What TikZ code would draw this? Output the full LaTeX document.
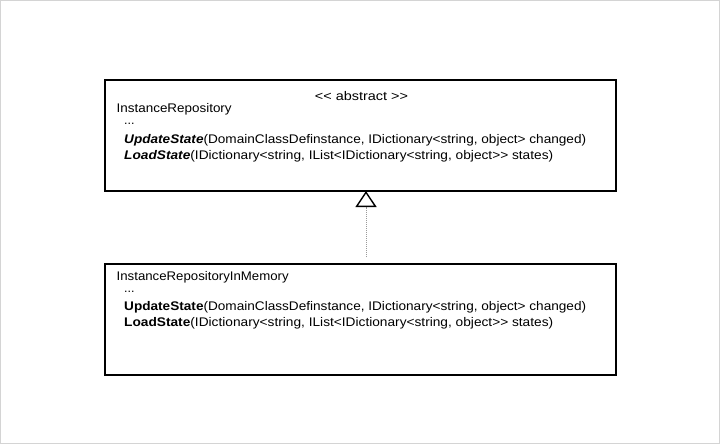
\documentclass[tikz,border=0pt]{standalone}
\usepackage{fontspec}
\setmainfont{Liberation Sans}[Ligatures=TeXOff]
\usetikzlibrary{arrows.meta}
\definecolor{framegray}{HTML}{D4D4D4}
\definecolor{dotgray}{HTML}{9A9A9A}
\newcommand{\fitw}[2]{\resizebox{#1}{\height}{#2}}
\begin{document}
\begin{tikzpicture}[x=1pt,y=-1pt,
  classbox/.style={draw=black, line width=1.6pt, fill=white, anchor=north west, inner sep=0pt, outer sep=0pt},
  txt/.style={font=\fontsize{12.5pt}{14pt}\selectfont, inner sep=0pt, anchor=base west},
  realize/.style={draw=dotgray, line width=0.9pt, dash pattern=on 1pt off 1pt,
    -{Triangle[open, length=16pt, width=21pt, color=black, line width=1.4pt]}}]
\draw[framegray, line width=1pt, fill=white] (0.5,0.5) rectangle (719.5,443.5);
\useasboundingbox (0,0) rectangle (720,444);
% superclass
\node[classbox, minimum width=511pt, minimum height=111pt] (sup) at (105,80) {};
\node[txt, anchor=base] (supster) at (361.5,100) {\fitw{93pt}{<< abstract >>}};
\node[txt] (supname) at (116.5,112.5) {\fitw{115pt}{InstanceRepository}};
\node[txt] (supdots) at (124,124) {...};
\node[txt] (supm1) at (124,143) {\fitw{462pt}{\textbf{\textit{UpdateState}}(DomainClassDefinstance, IDictionary<string, object> changed)}};
\node[txt] (supm2) at (124,159) {\fitw{429pt}{\textbf{\textit{LoadState}}(IDictionary<string, IList<IDictionary<string, object>> states)}};
% subclass
\node[classbox, minimum width=511pt, minimum height=111pt] (sub) at (105,264) {};
\node[txt] (subname) at (116.5,280.5) {\fitw{172pt}{InstanceRepositoryInMemory}};
\node[txt] (subdots) at (124,292) {...};
\node[txt] (subm1) at (124,310) {\fitw{462pt}{\textbf{UpdateState}(DomainClassDefinstance, IDictionary<string, object> changed)}};
\node[txt] (subm2) at (124,326) {\fitw{429pt}{\textbf{LoadState}(IDictionary<string, IList<IDictionary<string, object>> states)}};
% realization
\coordinate (subtop) at (366,264);
\coordinate (supbot) at (366,191);
\draw[realize, shorten <=7pt] (subtop) -- (supbot);
\end{tikzpicture}
\end{document}
